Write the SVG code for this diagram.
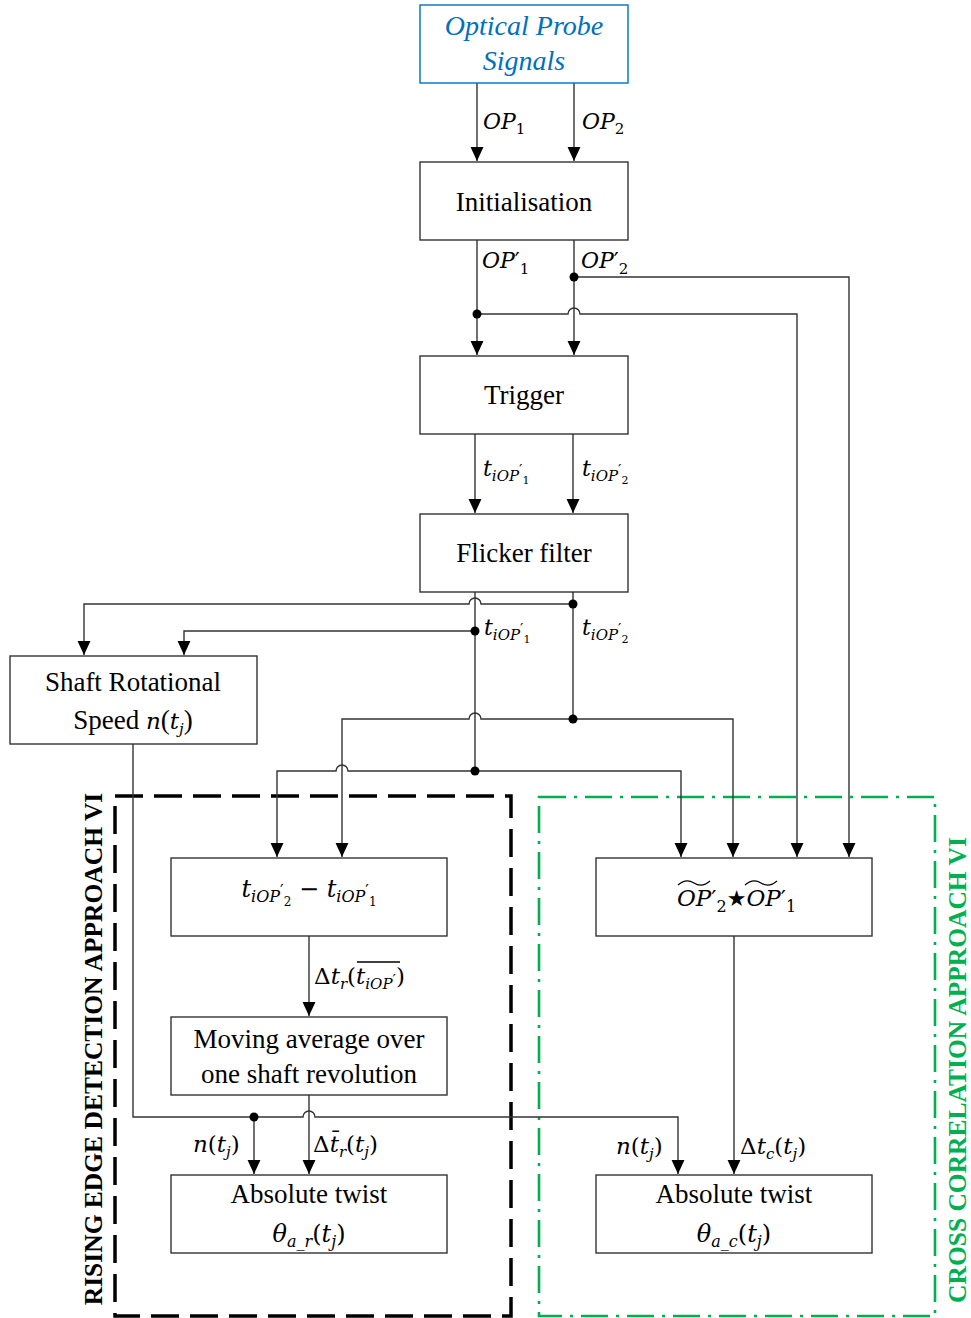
<svg xmlns="http://www.w3.org/2000/svg" width="971" height="1318" viewBox="0 0 971 1318">
<style>
  .box{fill:#fff;stroke:#333;stroke-width:1.4}
  .wire{fill:none;stroke:#333;stroke-width:1.4}
  .arr{marker-end:url(#ah)}
  .t{font-family:"Liberation Serif","Times New Roman",serif;font-size:27px;fill:#000}
  .m{font-family:"DejaVu Serif","Liberation Serif",serif;font-size:22px;font-style:italic;fill:#000}
  .mb{font-size:23px}
  .up{font-style:normal}
  .s{font-size:15px;font-style:normal}
  .ss{font-size:15px}
  .sss{font-size:11px;font-style:normal}
  .vt{font-family:"Liberation Serif","Times New Roman",serif;font-size:25.5px;font-weight:bold}
</style>
<defs>
  <marker id="ah" markerUnits="userSpaceOnUse" markerWidth="14" markerHeight="14" viewBox="0 0 13 12" refX="13" refY="6" orient="auto">
    <path d="M0,0 L13,6 L0,12 z" fill="#000"/>
  </marker>
</defs>
<rect width="971" height="1318" fill="#fff"/>

<!-- region frames -->
<g id="region-rising">
  <rect x="115" y="796" width="396" height="520" fill="none" stroke="#000" stroke-width="3.5" stroke-dasharray="28 11"/>
  <text class="vt" fill="#000" transform="translate(102,1049) rotate(-90)" text-anchor="middle">RISING EDGE DETECTION APPROACH VI</text>
</g>
<g id="region-cross">
  <rect x="539" y="797" width="396" height="519" fill="none" stroke="#00B050" stroke-width="2.6" stroke-dasharray="27 8 3 8"/>
  <text class="vt" fill="#00B050" transform="translate(966,1070) rotate(-90)" text-anchor="middle">CROSS CORRELATION APPROACH VI</text>
</g>

<!-- connectors -->
<g id="connectors">
  <path class="wire arr" d="M477,83 V161"/>
  <path class="wire arr" d="M574,83 V161"/>
  <path class="wire arr" d="M477,240 V355"/>
  <path class="wire arr" d="M574,240 V355"/>
  <path class="wire arr" d="M574,277 H849 V857"/>
  <path class="wire arr" d="M477,314 H568 A6,6 0 0 1 580,314 H797 V857"/>
  <path class="wire arr" d="M475,434 V513"/>
  <path class="wire arr" d="M573,434 V513"/>
  <path class="wire" d="M475,592 V771"/>
  <path class="wire" d="M573,592 V719"/>
  <path class="wire arr" d="M573,604 H481 A6,6 0 0 0 469,604 H84 V655"/>
  <path class="wire arr" d="M475,631 H184 V655"/>
  <path class="wire arr" d="M573,719 H733 V857"/>
  <path class="wire arr" d="M573,719 H481 A6,6 0 0 0 469,719 H342 V857"/>
  <path class="wire arr" d="M475,771 H348 A6,6 0 0 0 336,771 H277 V857"/>
  <path class="wire arr" d="M475,771 H681 V857"/>
  <path class="wire arr" d="M309,936 V1016"/>
  <path class="wire arr" d="M309,1095 V1174"/>
  <path class="wire arr" d="M133,744 V1117 H303 A6,6 0 0 1 315,1117 H678 V1174"/>
  <path class="wire arr" d="M254,1117 V1174"/>
  <path class="wire arr" d="M734,936 V1174"/>
  <g fill="#000">
    <circle cx="574" cy="277" r="4.5"/>
    <circle cx="477" cy="314" r="4.5"/>
    <circle cx="573" cy="604" r="4.5"/>
    <circle cx="475" cy="631" r="4.5"/>
    <circle cx="573" cy="719" r="4.5"/>
    <circle cx="475" cy="771" r="4.5"/>
    <circle cx="254" cy="1117" r="4.5"/>
  </g>
  <!-- connector labels -->
  <text class="m" x="483" y="129">OP<tspan class="s" dy="5">1</tspan></text>
  <text class="m" x="582" y="129">OP<tspan class="s" dy="5">2</tspan></text>
  <text class="m" x="482" y="268">OP<tspan class="up">′</tspan><tspan class="s" dy="6">1</tspan></text>
  <text class="m" x="581" y="268">OP<tspan class="up">′</tspan><tspan class="s" dy="6">2</tspan></text>
  <text class="m" x="483" y="476">t<tspan class="ss" dy="5">iOP</tspan><tspan class="ss up" dy="-6">′</tspan><tspan class="sss" dy="9">1</tspan></text>
  <text class="m" x="582" y="476">t<tspan class="ss" dy="5">iOP</tspan><tspan class="ss up" dy="-6">′</tspan><tspan class="sss" dy="9">2</tspan></text>
  <text class="m" x="484" y="635">t<tspan class="ss" dy="5">iOP</tspan><tspan class="ss up" dy="-6">′</tspan><tspan class="sss" dy="9">1</tspan></text>
  <text class="m" x="582" y="635">t<tspan class="ss" dy="5">iOP</tspan><tspan class="ss up" dy="-6">′</tspan><tspan class="sss" dy="9">2</tspan></text>
  <text class="m mb" x="314" y="984"><tspan class="up">Δ</tspan>t<tspan class="ss" dy="5">r</tspan><tspan class="up" dy="-5">(</tspan>t<tspan class="ss" dy="5">iOP</tspan><tspan class="ss up" dy="-4">′</tspan><tspan class="up" dy="-1">)</tspan></text>
  <line x1="357" y1="962" x2="400" y2="962" stroke="#000" stroke-width="1.3"/>
  <text class="m mb" x="193" y="1152">n<tspan class="up">(</tspan>t<tspan class="ss" dy="5">j</tspan><tspan class="up" dy="-5">)</tspan></text>
  <text class="m mb" x="313" y="1152"><tspan class="up">Δ</tspan>t̄<tspan class="ss" dy="5">r</tspan><tspan class="up" dy="-5">(</tspan>t<tspan class="ss" dy="5">j</tspan><tspan class="up" dy="-5">)</tspan></text>
  <text class="m mb" x="616" y="1154">n<tspan class="up">(</tspan>t<tspan class="ss" dy="5">j</tspan><tspan class="up" dy="-5">)</tspan></text>
  <text class="m mb" x="740" y="1154"><tspan class="up">Δ</tspan>t<tspan class="ss" dy="5">c</tspan><tspan class="up" dy="-5">(</tspan>t<tspan class="ss" dy="5">j</tspan><tspan class="up" dy="-5">)</tspan></text>
</g>

<!-- nodes -->
<g id="node-probe">
  <rect x="420" y="5" width="208" height="78" fill="#fff" stroke="#0070C0" stroke-width="1.4"/>
  <text x="524" y="35" text-anchor="middle" style="font-family:'Liberation Serif',serif;font-style:italic;font-size:28px;fill:#0070C0">Optical Probe</text>
  <text x="524" y="70" text-anchor="middle" style="font-family:'Liberation Serif',serif;font-style:italic;font-size:28px;fill:#0070C0">Signals</text>
</g>
<g id="node-init">
  <rect class="box" x="420" y="162" width="208" height="78"/>
  <text class="t" x="524" y="211" text-anchor="middle">Initialisation</text>
</g>
<g id="node-trigger">
  <rect class="box" x="420" y="356" width="208" height="78"/>
  <text class="t" x="524" y="404" text-anchor="middle">Trigger</text>
</g>
<g id="node-flicker">
  <rect class="box" x="420" y="514" width="208" height="78"/>
  <text class="t" x="524" y="562" text-anchor="middle">Flicker filter</text>
</g>
<g id="node-shaft">
  <rect class="box" x="10" y="656" width="247" height="88"/>
  <text class="t" x="133" y="691" text-anchor="middle">Shaft Rotational</text>
  <text class="t" x="133" y="729" text-anchor="middle">Speed <tspan class="m mb">n</tspan><tspan>(</tspan><tspan class="m mb">t</tspan><tspan class="m ss" dy="5">j</tspan><tspan dy="-5">)</tspan></text>
</g>
<g id="node-diff">
  <rect class="box" x="171" y="858" width="276" height="78"/>
  <text class="m" style="font-size:24px" x="309" y="897" text-anchor="middle">t<tspan class="ss" style="font-size:16px" dy="5">iOP</tspan><tspan class="ss up" style="font-size:16px" dy="-6">′</tspan><tspan class="sss" style="font-size:12px" dy="10">2</tspan><tspan class="up" dy="-9"> − </tspan>t<tspan class="ss" style="font-size:16px" dy="5">iOP</tspan><tspan class="ss up" style="font-size:16px" dy="-6">′</tspan><tspan class="sss" style="font-size:12px" dy="10">1</tspan></text>
</g>
<g id="node-mavg">
  <rect class="box" x="171" y="1017" width="276" height="78"/>
  <text class="t" x="309" y="1048" text-anchor="middle">Moving average over</text>
  <text class="t" x="309" y="1083" text-anchor="middle">one shaft revolution</text>
</g>
<g id="node-abs-r">
  <rect class="box" x="171" y="1175" width="276" height="78"/>
  <text class="t" x="309" y="1203" text-anchor="middle">Absolute twist</text>
  <text class="m" style="font-size:24px" x="309" y="1242" text-anchor="middle">θ<tspan class="ss" style="font-size:16px" dy="5">a_r</tspan><tspan class="up" dy="-5">(</tspan>t<tspan class="ss" style="font-size:16px" dy="5">j</tspan><tspan class="up" dy="-5">)</tspan></text>
</g>
<g id="node-xcorr">
  <rect class="box" x="596" y="858" width="276" height="78"/>
  <text class="m mb" x="677" y="906">OP<tspan class="up">′</tspan><tspan class="s" style="font-size:16px" dy="6">2</tspan><tspan class="up" dy="-6" style="font-family:'DejaVu Sans',sans-serif;font-size:22px">★</tspan>OP<tspan class="up">′</tspan><tspan class="s" style="font-size:16px" dy="6">1</tspan></text>
  <path d="M678,885 Q686,878 694,883 T710,881" fill="none" stroke="#000" stroke-width="1.3"/>
  <path d="M745,885 Q753,878 761,883 T777,881" fill="none" stroke="#000" stroke-width="1.3"/>
</g>
<g id="node-abs-c">
  <rect class="box" x="596" y="1175" width="276" height="78"/>
  <text class="t" x="734" y="1203" text-anchor="middle">Absolute twist</text>
  <text class="m" style="font-size:24px" x="734" y="1242" text-anchor="middle">θ<tspan class="ss" style="font-size:16px" dy="5">a_c</tspan><tspan class="up" dy="-5">(</tspan>t<tspan class="ss" style="font-size:16px" dy="5">j</tspan><tspan class="up" dy="-5">)</tspan></text>
</g>
</svg>
